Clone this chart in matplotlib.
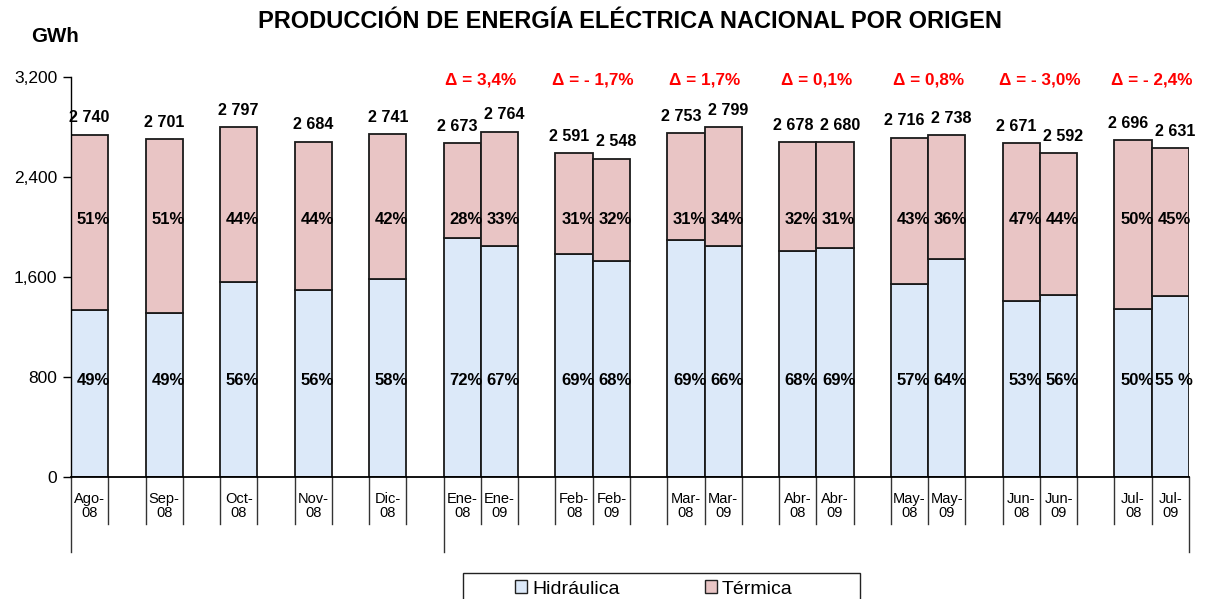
import matplotlib
matplotlib.use("Agg")
import matplotlib.pyplot as plt
from matplotlib.patches import Patch, Rectangle

plt.rcParams['font.family'] = ['Liberation Sans', 'DejaVu Sans']

# groups of months: singles first, then 2008 / 2009 pairs
groups = [["Ago-\n08"], ["Sep-\n08"], ["Oct-\n08"], ["Nov-\n08"], ["Dic-\n08"],
          ["Ene-\n08", "Ene-\n09"], ["Feb-\n08", "Feb-\n09"], ["Mar-\n08", "Mar-\n09"],
          ["Abr-\n08", "Abr-\n09"], ["May-\n08", "May-\n09"], ["Jun-\n08", "Jun-\n09"],
          ["Jul-\n08", "Jul-\n09"]]

hidraulica = [1340, 1315, 1562, 1500, 1588, 1915, 1852, 1786, 1728, 1898, 1848,
              1812, 1836, 1546, 1744, 1412, 1454, 1342, 1448]
termica = [1400, 1386, 1235, 1184, 1153, 758, 912, 805, 820, 855, 951,
           866, 844, 1170, 994, 1259, 1138, 1354, 1183]
totales = ["2 740", "2 701", "2 797", "2 684", "2 741", "2 673", "2 764", "2 591", "2 548",
           "2 753", "2 799", "2 678", "2 680", "2 716", "2 738", "2 671", "2 592", "2 696", "2 631"]
pct_hid = ["49%", "49%", "56%", "56%", "58%", "72%", "67%", "69%", "68%", "69%", "66%",
           "68%", "69%", "57%", "64%", "53%", "56%", "50%", "55 %"]
pct_ter = ["51%", "51%", "44%", "44%", "42%", "28%", "33%", "31%", "32%", "31%", "34%",
           "32%", "31%", "43%", "36%", "47%", "44%", "50%", "45%"]
deltas = ["Δ = 3,4%", "Δ = - 1,7%", "Δ = 1,7%", "Δ = 0,1%", "Δ = 0,8%", "Δ = - 3,0%", "Δ = - 2,4%"]

azul = "#dce9f9"
rosa = "#e9c5c5"

# slot positions: one empty slot after every group
pos = []
labels = []
shift = []          # small sideways nudge of the total labels inside a pair
group_centers = []
slot = 0
for g in groups:
    start = slot
    for i, lab in enumerate(g):
        pos.append(slot + 0.5)
        labels.append(lab)
        shift.append(0 if len(g) == 1 else (-3.5 if i == 0 else 3.5))
        slot += 1
    if len(g) == 2:
        group_centers.append((start + slot) / 2)
    slot += 1
nslots = slot - 1

fig = plt.figure(figsize=(12.11, 5.99), dpi=100)
ax = fig.add_axes([71/1211, 1 - 477/599, (1189 - 71)/1211, 400/599])

ax.bar(pos, hidraulica, width=1, color=azul, edgecolor="#1a1a1a", linewidth=1.3)
ax.bar(pos, termica, width=1, bottom=hidraulica, color=rosa, edgecolor="#1a1a1a", linewidth=1.3)

ax.set_xlim(0, nslots)
ax.set_ylim(0, 3200)
ax.set_yticks([0, 800, 1600, 2400, 3200])
ax.set_yticklabels(["0", "800", "1,600", "2,400", "3,200"], fontsize=12.5)
ax.tick_params(axis='y', direction='out', length=6, width=1, pad=4)
ax.set_xticks([])
for s in ["top", "right"]:
    ax.spines[s].set_visible(False)
ax.spines["bottom"].set_linewidth(1.3)
ax.spines["left"].set_linewidth(1.0)

trans = ax.get_xaxis_transform()
# category divider lines under the axis
for k in range(nslots + 1):
    low = -0.1875 if k in (0, 10, nslots) else -0.1175
    ax.plot([k, k], [0, low], transform=trans, color="#333333", lw=1.0, clip_on=False)
for x, lab in zip(pos, labels):
    ax.text(x, -0.0725, lab, transform=trans, ha="center", va="center",
            fontsize=10.5, linespacing=1.05)

for x, dx, h, t, tot, ph, pt in zip(pos, shift, hidraulica, termica, totales, pct_hid, pct_ter):
    ax.annotate(tot, (x, h + t), xytext=(dx, 12), textcoords="offset points",
                ha="center", va="center", fontsize=11.6, fontweight="bold")
    ax.text(x + 0.1, 770, ph, ha="center", va="center", fontsize=12, fontweight="bold")
    ax.text(x + 0.1, 2060, pt, ha="center", va="center", fontsize=12, fontweight="bold")

for x, d in zip(group_centers, deltas):
    ax.text(x, 3175, d, ha="center", va="center", fontsize=12.3, fontweight="bold",
            color="red", clip_on=False)

fig.text(630/1211, 1 - 22/599, "PRODUCCIÓN DE ENERGÍA ELÉCTRICA NACIONAL POR ORIGEN",
         ha="center", va="center", fontsize=17, fontweight="bold")
fig.text(55/1211, 1 - 37/599, "GWh", ha="center", va="center", fontsize=14.8, fontweight="bold")

# legend box (runs off the bottom edge as in the original)
fig.patches.append(Rectangle((463/1211, -0.05), (860 - 463)/1211, 0.05 + 26/599,
                             transform=fig.transFigure, fill=False,
                             edgecolor="#222222", linewidth=1.0))
handles = [Patch(facecolor=azul, edgecolor="#222222", label="Hidráulica"),
           Patch(facecolor=rosa, edgecolor="#222222", label="Térmica")]
fig.legend(handles=handles, loc="center", bbox_to_anchor=(654/1211, 1 - 589/599),
           ncol=2, fontsize=14, frameon=False,
           handlelength=0.62, handleheight=0.62, handletextpad=0.25, columnspacing=4.4,
           borderpad=0, borderaxespad=0)

fig.savefig("out.png", dpi=100)
